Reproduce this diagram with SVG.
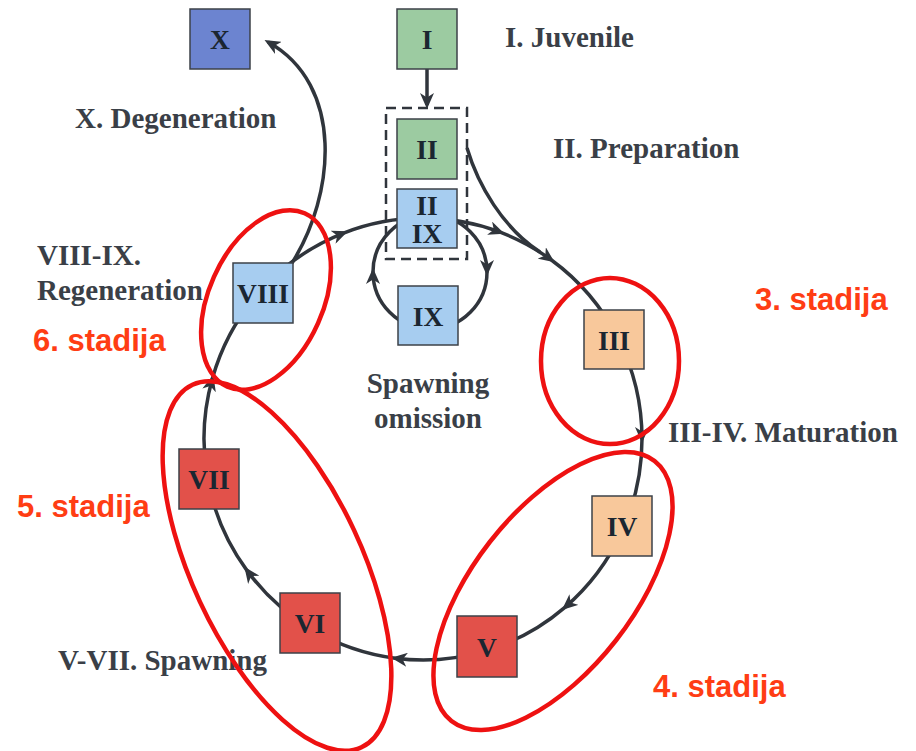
<svg xmlns="http://www.w3.org/2000/svg" width="916" height="751" viewBox="0 0 916 751">
<style>
.box{stroke:#3c4148;stroke-width:1.5}
.green{fill:#9ccba1}
.blue{fill:#a7cdf0}
.dblue{fill:#6c84d0}
.peach{fill:#f8c89b}
.red{fill:#e2514a}
.bl{font-family:"Liberation Serif","Times New Roman",serif;font-weight:bold;font-size:27.5px;fill:#1b2631;text-anchor:middle}
.lbl{font-family:"Liberation Serif","Times New Roman",serif;font-weight:bold;font-size:29px;fill:#3a3f47}
.st{font-family:"Liberation Sans",Arial,sans-serif;font-weight:bold;font-size:31px;fill:#ff3d14}
.ln{fill:none;stroke:#30353c;stroke-width:3.5}
.ov{fill:none;stroke:#ee1111;stroke-width:4.5}
</style>
<defs>
<marker id="ah" viewBox="0 0 16 14" refX="12" refY="7" markerWidth="16" markerHeight="14" markerUnits="userSpaceOnUse" orient="auto">
<path d="M0,0 L16,7 L0,14 L4.5,7 z" fill="#30353c"/>
</marker>
</defs>
<rect width="916" height="751" fill="#ffffff"/>

<g id="connectors">
<!-- main cycle (ellipse c=423,439 rx219 ry221) -->
<path class="ln" d="M212.3,378.8 A219,221 0 0 1 344.2,232.8" marker-end="url(#ah)"/>
<path class="ln" d="M344.2,232.8 A219,221 0 0 1 500.8,232.4" marker-end="url(#ah)"/>
<path class="ln" d="M500.8,232.4 A219,221 0 0 1 551.4,260" marker-end="url(#ah)"/>
<path class="ln" d="M551.4,260 A219,221 0 0 1 642,439" marker-end="url(#ah)"/>
<path class="ln" d="M642,439 A219,221 0 0 1 564.9,607.3" marker-end="url(#ah)"/>
<path class="ln" d="M564.9,607.3 A219,221 0 0 1 395.2,658.2" marker-end="url(#ah)"/>
<path class="ln" d="M395.2,658.2 A219,221 0 0 1 246.7,570.1" marker-end="url(#ah)"/>
<path class="ln" d="M246.7,570.1 A219,221 0 0 1 212.3,378.8" marker-end="url(#ah)"/>
<!-- I to II -->
<path class="ln" d="M427,69 L427,105" marker-end="url(#ah)"/>
<!-- II to cycle -->
<path class="ln" d="M467,148 C478,185 503,228 540,252"/>
<!-- VIII to X -->
<path class="ln" d="M292,263 C335,195 345,85 268,42" marker-end="url(#ah)"/>
<!-- spawning omission loop -->
<path class="ln" d="M430,215 A57,57 0 0 1 487,272" marker-end="url(#ah)"/>
<path class="ln" d="M487,272 A57,57 0 0 1 430,329"/>
<path class="ln" d="M430,329 A57,57 0 0 1 373,272" marker-end="url(#ah)"/>
<path class="ln" d="M373,272 A57,57 0 0 1 430,215"/>
<!-- dashed grouping -->
<rect x="386" y="108" width="81" height="151" fill="none" stroke="#30353c" stroke-width="2.5" stroke-dasharray="10 6"/>
</g>

<g id="node-X"><rect class="box dblue" x="190" y="9" width="60" height="60"/><text class="bl" x="220" y="49">X</text></g>
<g id="node-I"><rect class="box green" x="397" y="9" width="60" height="60"/><text class="bl" x="427" y="49">I</text></g>
<g id="node-II"><rect class="box green" x="397" y="119" width="60" height="60"/><text class="bl" x="427" y="159">II</text></g>
<g id="node-II-IX"><rect class="box blue" x="397" y="189" width="60" height="59"/><text class="bl" x="427" y="215">II</text><text class="bl" x="427" y="243">IX</text></g>
<g id="node-IX"><rect class="box blue" x="398" y="286" width="60" height="59"/><text class="bl" x="428" y="326">IX</text></g>
<g id="node-VIII"><rect class="box blue" x="233" y="263" width="60" height="60"/><text class="bl" x="263" y="303">VIII</text></g>
<g id="node-III"><rect class="box peach" x="584" y="310" width="60" height="59"/><text class="bl" x="614" y="350">III</text></g>
<g id="node-IV"><rect class="box peach" x="592" y="496" width="60" height="60"/><text class="bl" x="622" y="536">IV</text></g>
<g id="node-V"><rect class="box red" x="457" y="616" width="60" height="61"/><text class="bl" x="487" y="657">V</text></g>
<g id="node-VI"><rect class="box red" x="280" y="593" width="60" height="60"/><text class="bl" x="310" y="633">VI</text></g>
<g id="node-VII"><rect class="box red" x="179" y="449" width="60" height="60"/><text class="bl" x="209" y="489">VII</text></g>

<g id="labels">
<text class="lbl" x="505" y="47">I. Juvenile</text>
<text class="lbl" x="553" y="158">II. Preparation</text>
<text class="lbl" x="75" y="128">X. Degeneration</text>
<text class="lbl" x="37" y="265">VIII-IX.</text>
<text class="lbl" x="37" y="300">Regeneration</text>
<text class="lbl" x="668" y="442">III-IV. Maturation</text>
<text class="lbl" x="58" y="670">V-VII. Spawning</text>
<text class="lbl" x="428" y="393" text-anchor="middle">Spawning</text>
<text class="lbl" x="428" y="428" text-anchor="middle">omission</text>
</g>

<g id="stages">
<ellipse class="ov" cx="266" cy="300" rx="95" ry="57" transform="rotate(-66 266 300)"/>
<ellipse class="ov" cx="610" cy="361" rx="69" ry="83"/>
<ellipse class="ov" cx="553" cy="591" rx="165" ry="80" transform="rotate(-52 553 591)"/>
<ellipse class="ov" cx="277" cy="566" rx="200" ry="85" transform="rotate(65 277 566)"/>
<text class="st" x="755" y="310">3. stadija</text>
<text class="st" x="653" y="697">4. stadija</text>
<text class="st" x="17" y="517">5. stadija</text>
<text class="st" x="33" y="351">6. stadija</text>
</g>
</svg>
